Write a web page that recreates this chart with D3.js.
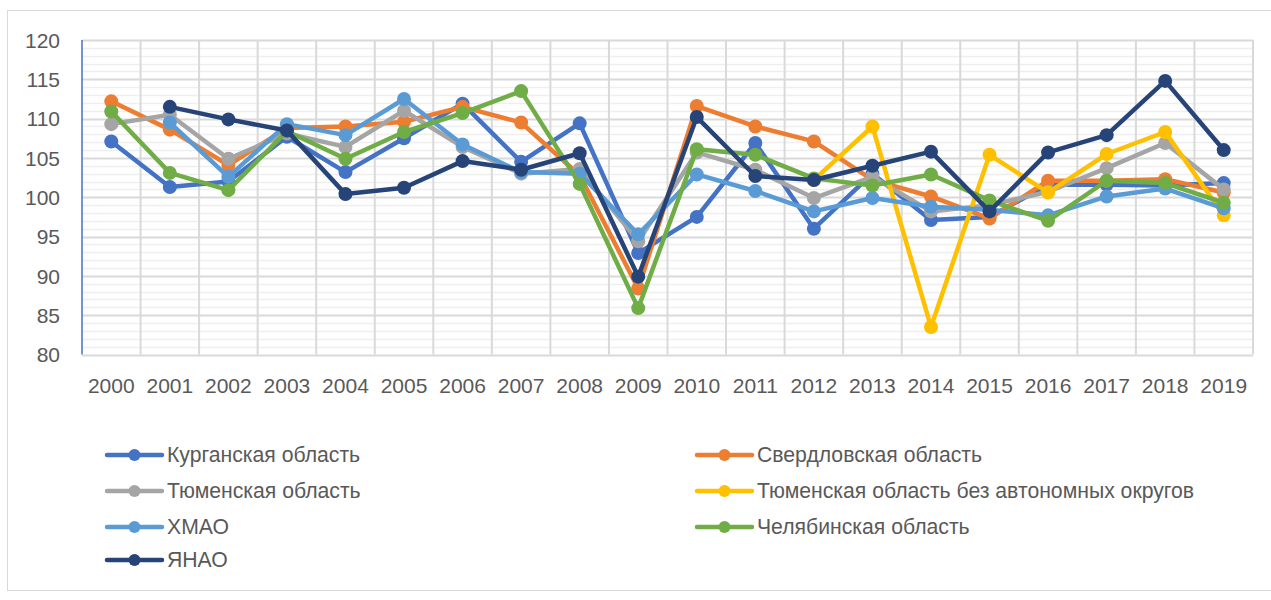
<!DOCTYPE html>
<html>
<head>
<meta charset="utf-8">
<script src="https://cdn.jsdelivr.net/npm/d3@7"></script>
<style>
  html, body { margin: 0; padding: 0; background: #fff; }
  svg { display: block; }
  text { font-family: "Liberation Sans", Arial, sans-serif; fill: #595959; }
</style>
</head>
<body>
<svg id="chart" width="1271" height="600"></svg>
<script>
const years = ["2000","2001","2002","2003","2004","2005","2006","2007","2008","2009","2010","2011","2012","2013","2014","2015","2016","2017","2018","2019"];
const yTicks = [80, 85, 90, 95, 100, 105, 110, 115, 120];

const seriesNames = [
  "Курганская область",
  "Свердловская область",
  "Тюменская область",
  "Тюменская область без автономных округов",
  "ХМАО",
  "Челябинская область",
  "ЯНАО"
];
const seriesColors = ["#4472C4", "#ED7D31", "#A5A5A5", "#FFC000", "#5B9BD5", "#70AD47", "#264478"];

const kurgan      = [107.1, 101.3, 102.0, 107.7, 103.2, 107.5, 111.9, 104.5, 109.4, 92.9, 97.5, 106.9, 96.0, 103.0, 97.1, 97.5, 101.6, 101.6, 101.5, 101.8];
const sverdlovsk  = [112.2, 108.6, 104.1, 108.8, 109.0, 109.6, 111.5, 109.5, 102.8, 88.4, 111.6, 109.0, 107.1, 102.2, 100.1, 97.3, 102.1, 102.1, 102.3, 100.6];
const tyumen      = [109.3, 110.5, 104.9, 108.1, 106.4, 111.0, 106.4, 103.0, 103.6, 94.4, 105.7, 103.5, 99.9, 102.6, 98.2, 99.0, 100.7, 103.7, 106.9, 101.0];
const tyumenNoAO  = [null, null, null, null, null, null, null, null, null, null, null, null, 102.2, 109.0, 83.5, 105.4, 100.6, 105.5, 108.3, 97.7];
const khmao       = [null, 109.5, 102.6, 109.3, 107.9, 112.5, 106.7, 103.2, 103.0, 95.3, 102.9, 100.8, 98.2, 99.9, 98.8, 98.4, 97.7, 100.1, 101.1, 98.6];
const chelyabinsk = [110.9, 103.1, 100.9, 108.4, 104.9, 108.3, 110.7, 113.5, 101.7, 85.9, 106.1, 105.4, 102.4, 101.5, 102.9, 99.6, 97.0, 102.1, 101.8, 99.3];
const yanao       = [null, 111.5, 109.9, 108.5, 100.4, 101.2, 104.6, 103.5, 105.6, 89.9, 110.2, 102.7, 102.2, 104.0, 105.8, 98.2, 105.7, 107.9, 114.8, 106.0];

const seriesValues = [kurgan, sverdlovsk, tyumen, tyumenNoAO, khmao, chelyabinsk, yanao];

const svg = d3.select("#chart");
const margin = {left: 82, top: 40, right: 1253, bottom: 354.5};

// outer chart border
svg.append("rect")
  .attr("x", 7.5).attr("y", 10.5)
  .attr("width", 1275).attr("height", 580)
  .attr("fill", "none").attr("stroke", "#d9d9d9").attr("stroke-width", 1);

const x = d3.scaleBand().domain(years).range([margin.left, margin.right]).paddingInner(0).paddingOuter(0);
const y = d3.scaleLinear().domain([80, 120]).range([margin.bottom, margin.top]);

// minor gridlines
const minor = d3.range(80, 121, 1).filter(v => v % 5 !== 0);
svg.append("g").selectAll("line").data(minor).join("line")
  .attr("x1", margin.left).attr("x2", margin.right)
  .attr("y1", d => Math.round(y(d)) + 0.5).attr("y2", d => Math.round(y(d)) + 0.5)
  .attr("stroke", "#eeeeee").attr("stroke-width", 1.5);

// major horizontal gridlines
svg.append("g").selectAll("line").data(yTicks).join("line")
  .attr("x1", margin.left).attr("x2", margin.right)
  .attr("y1", d => Math.round(y(d)) + 0.5).attr("y2", d => Math.round(y(d)) + 0.5)
  .attr("stroke", "#d9d9d9").attr("stroke-width", 2);

// vertical gridlines at category boundaries
const bounds = years.map(yr => x(yr)).concat([margin.right]);
svg.append("g").selectAll("line").data(bounds.slice(1)).join("line")
  .attr("x1", d => d).attr("x2", d => d)
  .attr("y1", margin.top).attr("y2", margin.bottom)
  .attr("stroke", "#d9d9d9").attr("stroke-width", 2);

// y axis line (blue)
svg.append("line")
  .attr("x1", margin.left).attr("x2", margin.left)
  .attr("y1", margin.top).attr("y2", margin.bottom)
  .attr("stroke", "#4472C4").attr("stroke-width", 1.5);

// Y axis labels
const yAxis = d3.axisLeft(y).tickValues(yTicks).tickSize(0).tickPadding(0);
const gy = svg.append("g").attr("transform", `translate(${margin.left - 22},0)`).call(yAxis);
gy.select(".domain").remove();
gy.selectAll("text").attr("font-size", 21).attr("fill", "#595959")
  .style("font-family", '"Liberation Sans", Arial, sans-serif').attr("dy", "0.35em");

// X axis labels
const xAxis = d3.axisBottom(x).tickSize(0).tickPadding(0);
const gx = svg.append("g").attr("transform", `translate(0,${margin.bottom + 24})`).call(xAxis);
gx.select(".domain").remove();
gx.selectAll("text").attr("font-size", 21).attr("fill", "#595959")
  .style("font-family", '"Liberation Sans", Arial, sans-serif');

// Lines
const cx = yr => x(yr) + x.bandwidth() / 2;
const line = d3.line()
  .defined(d => d.v !== null)
  .x(d => cx(d.yr)).y(d => y(d.v));

seriesValues.forEach((vals, i) => {
  const pts = years.map((yr, j) => ({yr, v: vals[j]}));
  const g = svg.append("g");
  g.append("path").datum(pts)
    .attr("d", line).attr("fill", "none")
    .attr("stroke", seriesColors[i]).attr("stroke-width", 4.5)
    .attr("stroke-linejoin", "round").attr("stroke-linecap", "round");
  g.selectAll("circle").data(pts.filter(p => p.v !== null)).join("circle")
    .attr("cx", p => cx(p.yr)).attr("cy", p => y(p.v)).attr("r", 7)
    .attr("fill", seriesColors[i]);
});

// Legend
const legendPos = [
  {x: 107, y: 455}, {x: 697, y: 455},
  {x: 107, y: 491}, {x: 697, y: 491},
  {x: 107, y: 527}, {x: 697, y: 527},
  {x: 107, y: 560}
];
const lg = svg.append("g");
seriesNames.forEach((name, i) => {
  const p = legendPos[i];
  const g = lg.append("g").attr("transform", `translate(${p.x},${p.y})`);
  g.append("line").attr("x1", 0).attr("x2", 55).attr("y1", 0).attr("y2", 0)
    .attr("stroke", seriesColors[i]).attr("stroke-width", 4.5).attr("stroke-linecap", "round");
  g.append("circle").attr("cx", 27.5).attr("cy", 0).attr("r", 6).attr("fill", seriesColors[i]);
  g.append("text").attr("x", 60).attr("y", 0).attr("dy", "0.35em")
    .attr("font-size", 21.2).text(name);
});
</script>
</body>
</html>
